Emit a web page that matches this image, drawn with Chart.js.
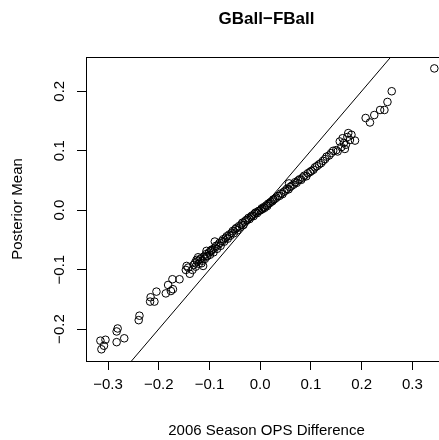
<!DOCTYPE html>
<html><head><meta charset="utf-8">
<script src="https://cdn.jsdelivr.net/npm/chart.js@4/dist/chart.umd.min.js"></script>
<style>
html,body{margin:0;padding:0;overflow:hidden;background:#fff;width:439px;height:440px}
#wrap{position:absolute;left:0;top:0;width:470px;height:440px}
</style>
</head><body><div id="wrap"><canvas id="c" width="470" height="440"></canvas></div>
<script>
const chartTitle = 'GBall\u2212FBall';
const xAxisTitle = '2006 Season OPS Difference';
const yAxisTitle = 'Posterior Mean';
const xTicks = [-0.3, -0.2, -0.1, 0, 0.1, 0.2, 0.3];
const yTicks = [-0.2, -0.1, 0, 0.1, 0.2];
const xLimits = [-0.3434, 0.3684];
const yLimits = [-0.2537, 0.2576];
const ablineIntercept = 0;
const ablineSlope = 1;

const seasonDiff = [
  -0.315,-0.305,-0.313,-0.308,-0.281,-0.283,-0.283,-0.268,-0.238,-0.2395,
  -0.216,-0.217,-0.2085,-0.2045,-0.186,-0.1815,-0.173,-0.172,-0.176,-0.159,
  -0.145,-0.1466,-0.142,-0.1335,-0.1387,-0.1255,-0.1223,-0.1157,-0.1125,-0.1058,
  -0.1058,-0.096,-0.0894,
  -0.131,-0.128,-0.127,-0.124,-0.121,-0.119,-0.117,-0.114,-0.111,-0.109,
  -0.107,-0.104,-0.101,-0.099,-0.097,-0.094,-0.092,-0.089,-0.087,-0.085,
  -0.082,-0.080,-0.078,-0.075,-0.073,-0.071,-0.068,-0.066,-0.064,-0.061,
  -0.059,-0.056,-0.054,-0.052,-0.049,-0.047,-0.045,-0.042,-0.040,-0.037,
  -0.035,-0.033,-0.030,-0.028,-0.025,-0.023,-0.021,-0.018,-0.016,-0.013,
  -0.011,-0.009,-0.006,-0.004,-0.002,
  0.001,0.003,0.005,0.007,0.009,0.012,0.014,0.016,0.019,0.021,
  0.024,0.026,0.029,0.032,0.035,0.038,0.041,0.044,0.047,0.050,
  0.053,0.056,0.059,0.062,0.066,0.069,0.072,0.075,0.078,0.081,
  0.084,0.087,0.091,0.094,0.098,0.101,0.105,0.108,0.112,0.116,
  0.120,0.124,0.128,0.131,0.136,0.140,0.144,0.150,0.057,0.0257,
  0.157,0.1626,0.169,0.1737,0.180,0.187,0.177,0.167,0.172,0.165,
  0.1527,0.160,
  0.208,0.2165,0.225,0.2365,0.245,0.251,0.2594,0.3434
];
const posteriorMean = [
  -0.2195,-0.218,-0.234,-0.228,-0.199,-0.204,-0.222,-0.2155,-0.1775,-0.185,
  -0.1465,-0.1538,-0.1538,-0.137,-0.140,-0.1258,-0.1162,-0.133,-0.136,-0.1162,
  -0.0938,-0.1005,-0.0966,-0.1005,-0.107,-0.0837,-0.0792,-0.0893,-0.0938,-0.078,
  -0.0685,-0.0668,-0.0528,
  -0.092,-0.088,-0.095,-0.086,-0.090,-0.083,-0.081,-0.085,-0.078,-0.082,
  -0.074,-0.077,-0.071,-0.075,-0.069,-0.066,-0.071,-0.063,-0.060,-0.065,
  -0.058,-0.055,-0.060,-0.052,-0.049,-0.053,-0.047,-0.044,-0.048,-0.041,
  -0.043,-0.038,-0.035,-0.039,-0.032,-0.030,-0.034,-0.027,-0.029,-0.024,
  -0.021,-0.025,-0.019,-0.017,-0.016,-0.013,-0.015,-0.011,-0.009,-0.010,
  -0.006,-0.004,-0.005,-0.002,-0.001,
  0.000,0.003,0.002,0.005,0.004,0.008,0.007,0.011,0.012,0.014,
  0.015,0.018,0.019,0.021,0.024,0.024,0.028,0.027,0.031,0.033,
  0.036,0.035,0.039,0.041,0.043,0.047,0.046,0.050,0.052,0.051,
  0.055,0.058,0.057,0.062,0.064,0.066,0.068,0.072,0.074,0.077,
  0.079,0.083,0.086,0.090,0.092,0.096,0.0998,0.101,0.045,0.0173,
  0.1155,0.121,0.110,0.1296,0.1268,0.117,0.118,0.103,0.123,0.113,
  0.0987,0.106,
  0.155,0.1475,0.160,0.1685,0.1685,0.182,0.200,0.2384
];

const F = '"Liberation Sans", Arial, Helvetica, sans-serif';
const fmt = v => (Math.abs(v) < 1e-9 ? 0 : v).toFixed(1).replace('-', '\u2212');

const points = seasonDiff.map((x, i) => ({x: x, y: posteriorMean[i]}));
const linePts = xLimits.map(x => ({x: x, y: ablineIntercept + ablineSlope * x}));

const boxPlugin = {
  id: 'box',
  afterDraw(chart) {
    const a = chart.chartArea, c = chart.ctx;
    c.save();
    c.strokeStyle = '#000';
    c.lineWidth = 1;
    c.strokeRect(Math.round(a.left) + 0.5, Math.round(a.top) + 0.5,
                 Math.round(a.right - a.left), Math.round(a.bottom - a.top));
    c.restore();
  }
};

new Chart(document.getElementById('c'), {
  type: 'scatter',
  data: {
    datasets: [
      {
        data: points,
        pointStyle: 'circle',
        pointRadius: 3.8,
        pointHoverRadius: 3.8,
        borderColor: '#000',
        backgroundColor: 'rgba(0,0,0,0)',
        borderWidth: 1,
        order: 1
      },
      {
        type: 'line',
        data: linePts,
        borderColor: '#000',
        borderWidth: 1,
        pointRadius: 0,
        fill: false,
        showLine: true,
        order: 0
      }
    ]
  },
  options: {
    responsive: false,
    animation: false,
    devicePixelRatio: 1,
    layout: {padding: {left: 0, right: 23, top: 0, bottom: 0}},
    plugins: {
      legend: {display: false},
      tooltip: {enabled: false},
      title: {
        display: true,
        text: chartTitle,
        fullSize: false,
        color: '#000',
        font: {family: F, size: 17, weight: 'bold', lineHeight: '22px'},
        padding: {top: 8, bottom: 27}
      }
    },
    scales: {
      x: {
        type: 'linear',
        position: 'bottom',
        min: xLimits[0],
        max: xLimits[1],
        afterBuildTicks: s => { s.ticks = xTicks.map(v => ({value: v})); },
        afterFit: s => { s.height = 79; },
        ticks: {callback: v => fmt(v), color: '#000', font: {family: F, size: 15}, padding: 6, maxRotation: 0, autoSkip: false},
        grid: {display: true, drawOnChartArea: false, drawTicks: true, tickLength: 9, color: '#000', lineWidth: 1},
        border: {display: true, color: '#000', width: 1},
        title: {display: true, text: xAxisTitle, color: '#000', font: {family: F, size: 15}, padding: {top: 0, bottom: 0}}
      },
      y: {
        type: 'linear',
        position: 'left',
        min: yLimits[0],
        max: yLimits[1],
        afterBuildTicks: s => { s.ticks = yTicks.map(v => ({value: v})); },
        afterFit: s => { s.width = 86; },
        ticks: {callback: v => fmt(v), color: '#000', font: {family: F, size: 15}, padding: 2, minRotation: 90, maxRotation: 90, crossAlign: 'center', autoSkip: false},
        grid: {display: true, drawOnChartArea: false, drawTicks: true, tickLength: 9, color: '#000', lineWidth: 1},
        border: {display: true, color: '#000', width: 1},
        title: {display: true, text: yAxisTitle, color: '#000', font: {family: F, size: 15}, padding: {top: 9, bottom: 0}}
      }
    }
  },
  plugins: [boxPlugin]
});
</script>
</body></html>
